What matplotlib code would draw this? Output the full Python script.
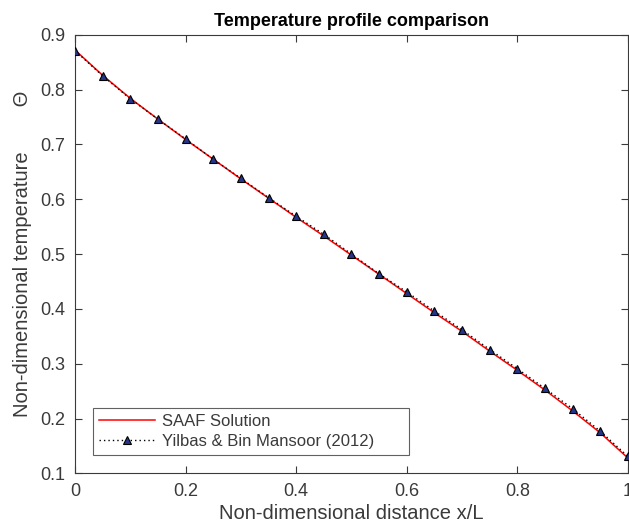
#!/usr/bin/env python3

import matplotlib
matplotlib.use('Agg')
import matplotlib.pyplot as plt

# non-dimensional distance x/L
x_pos = [0.00, 0.05, 0.10, 0.15, 0.20, 0.25, 0.30, 0.35, 0.40, 0.45, 0.50,
         0.55, 0.60, 0.65, 0.70, 0.75, 0.80, 0.85, 0.90, 0.95, 1.00]

# SAAF solution (red line)
theta_saaf = [0.872, 0.826, 0.784, 0.746, 0.709, 0.673, 0.637, 0.602, 0.567,
              0.533, 0.498, 0.463, 0.428, 0.393, 0.359, 0.323, 0.288, 0.252,
              0.214, 0.174, 0.128]

# Yilbas & Bin Mansoor (2012) reference values (markers)
theta_ref = [0.871, 0.825, 0.783, 0.746, 0.710, 0.673, 0.638, 0.603, 0.569,
             0.536, 0.500, 0.464, 0.431, 0.396, 0.362, 0.326, 0.291, 0.255,
             0.218, 0.177, 0.131]

x_ticks = [0, 0.2, 0.4, 0.6, 0.8, 1]
x_ticklabels = ['0', '0.2', '0.4', '0.6', '0.8', '1']
y_ticks = [0.1, 0.2, 0.3, 0.4, 0.5, 0.6, 0.7, 0.8, 0.9]
y_ticklabels = ['0.1', '0.2', '0.3', '0.4', '0.5', '0.6', '0.7', '0.8', '0.9']

plt.rcParams['font.family'] = ['Liberation Sans', 'DejaVu Sans']
grey = '#3a3a3a'

fig = plt.figure(figsize=(6.29, 5.25), dpi=100)
ax = fig.add_axes([0.1192, 0.0981, 0.8792, 0.8358])

ax.plot(x_pos, theta_saaf, color='red', lw=1.1, label='SAAF Solution', zorder=3)
ax.plot(x_pos, theta_ref, color='black', lw=1.0, ls=(0, (1, 2.2)),
        marker='^', markersize=6, markerfacecolor='#25358a',
        markeredgecolor='black', markeredgewidth=0.8,
        label='Yilbas & Bin Mansoor (2012)', zorder=4)

ax.set_xlim(0, 1)
ax.set_ylim(0.1, 0.9)
ax.set_xticks(x_ticks)
ax.set_xticklabels(x_ticklabels)
ax.set_yticks(y_ticks)
ax.set_yticklabels(y_ticklabels)
ax.tick_params(direction='in', top=True, right=True, length=5, width=0.8,
               colors=grey, labelsize=13, pad=7)
for s in ax.spines.values():
    s.set_color(grey)
    s.set_linewidth(0.8)

ax.set_xlabel('Non-dimensional distance x/L', fontsize=14.5, color=grey, labelpad=3)
ax.set_ylabel('Non-dimensional temperature        Θ', fontsize=14.5, color=grey,
              labelpad=6)
ax.set_title('Temperature profile comparison', fontsize=13, fontweight='bold', pad=6)

leg = ax.legend(loc='lower left', bbox_to_anchor=(0.032, 0.042, 0.572, 0.108),
                mode='expand', borderaxespad=0, fontsize=12, frameon=True,
                fancybox=False, edgecolor=grey, handlelength=3.4,
                handletextpad=0.4, labelspacing=0.3, borderpad=0.35)
leg.get_frame().set_linewidth(0.8)
for t in leg.get_texts():
    t.set_color(grey)

fig.savefig('out.png', dpi=100)
